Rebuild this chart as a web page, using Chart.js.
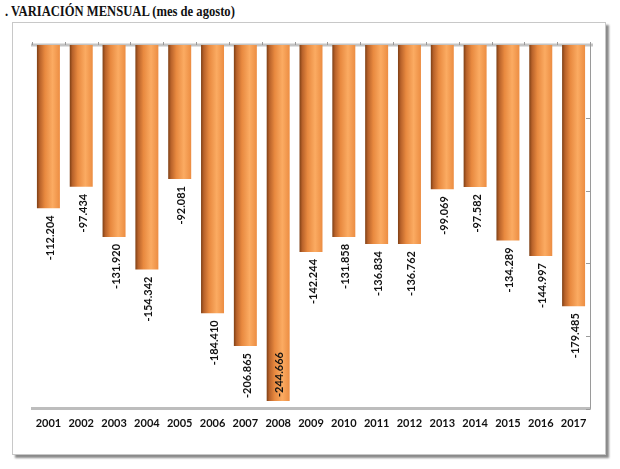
<!DOCTYPE html>
<html>
<head>
<meta charset="utf-8">
<script src="https://cdn.jsdelivr.net/npm/chart.js@4/dist/chart.umd.min.js"></script>
<style>
  html, body { margin: 0; padding: 0; background: #fff; }
  #wrap { position: relative; width: 620px; height: 469px; }
  #title { position: absolute; left: 5px; top: 4px; font: bold 14px "Liberation Serif", serif; color: #111; white-space: nowrap; transform: scaleX(0.9); transform-origin: left top; }
  #box { position: absolute; left: 12px; top: 22px; width: 592px; height: 431px; border: 1px solid #c8c8c8; box-shadow: 3px 3px 2px #8a8a8a; background: #fff; }
  #graph { position: absolute; left: 0; top: 0; }
</style>
</head>
<body>
<div id="wrap">
  <div id="title">. VARIACIÓN MENSUAL (mes de agosto)</div>
  <div id="box"></div>
  <canvas id="graph" width="620" height="469"></canvas>
</div>
<script>
const years = ["2001", "2002", "2003", "2004", "2005", "2006", "2007", "2008", "2009",
    "2010", "2011", "2012", "2013", "2014", "2015", "2016", "2017"];
const variacion = [-112204, -97434, -131920, -154342, -92081, -184410, -206865, -244666, -142244,
    -131858, -136834, -136762, -99069, -97582, -134289, -144997, -179485];
const yMin = -250000;
const yStep = 50000;
const barPct = 0.7;

const formatNum = v => (v < 0 ? "-" : "") + Math.abs(v).toString().replace(/\B(?=(\d{3})+(?!\d))/g, ".");

// cylinder look: horizontal gradient, one per bar
function cylinderFill(context) {
    const chart = context.chart;
    const x = chart.scales.x;
    const a = chart.chartArea;
    if (!x || !a || context.dataIndex === undefined) return "#f09a4c";
    const cx = x.getPixelForValue(context.dataIndex);
    const w = (a.right - a.left) / years.length * barPct;
    const left = cx - w / 2;
    const g = chart.ctx.createLinearGradient(left, 0, left + w, 0);
    g.addColorStop(0, "#7e3f15");
    g.addColorStop(0.12, "#b8622a");
    g.addColorStop(0.35, "#e8893f");
    g.addColorStop(0.68, "#fbab62");
    g.addColorStop(1, "#ec8d42");
    return g;
}

// frame lines of the plot area and value labels
const frame = {
    id: "frame",
    beforeDatasetsDraw(chart) {
        const {ctx, chartArea: a, scales: {y}} = chart;
        const y0 = y.getPixelForValue(0);
        ctx.save();
        ctx.strokeStyle = "#c4c4c4";
        ctx.lineWidth = 3;
        ctx.beginPath();
        ctx.moveTo(a.left - 1, y0);
        ctx.lineTo(a.right + 3, y0);
        ctx.stroke();
        ctx.strokeStyle = "#9a9a9a";
        ctx.lineWidth = 1;
        ctx.beginPath();
        ctx.moveTo(a.right + 0.5, y0);
        ctx.lineTo(a.right + 0.5, a.bottom);
        for (let v = -yStep; v >= yMin; v -= yStep) {
            const py = Math.round(y.getPixelForValue(v)) + 0.5;
            ctx.moveTo(a.right - 4, py);
            ctx.lineTo(a.right, py);
        }
        const n = years.length;
        for (let i = 0; i <= n; i++) {
            const px = Math.round(a.left + (a.right - a.left) * i / n) + 0.5;
            ctx.moveTo(px, y0 - 3);
            ctx.lineTo(px, y0);
        }
        ctx.stroke();
        ctx.restore();
    },
    afterDatasetsDraw(chart) {
        const {ctx, chartArea: a} = chart;
        ctx.save();
        ctx.font = "bold 11px Lato, sans-serif";
        ctx.fillStyle = "#111";
        ctx.textBaseline = "middle";
        chart.getDatasetMeta(0).data.forEach((bar, i) => {
            const txt = formatNum(variacion[i]);
            const w = ctx.measureText(txt).width;
            ctx.save();
            if (bar.y + 7 + w > a.bottom) {
                ctx.translate(bar.x + 1, bar.y - 4);
                ctx.rotate(-Math.PI / 2);
                ctx.textAlign = "left";
            } else {
                ctx.translate(bar.x + 2, bar.y + 7);
                ctx.rotate(-Math.PI / 2);
                ctx.textAlign = "right";
            }
            ctx.fillText(txt, 0, 0);
            ctx.restore();
        });
        ctx.restore();
    }
};

new Chart(document.querySelector("#graph"), {
    type: "bar",
    data: {
        labels: years,
        datasets: [{
            label: "Variación mensual",
            data: variacion,
            backgroundColor: cylinderFill,
            barPercentage: barPct,
            categoryPercentage: 1
        }]
    },
    options: {
        responsive: false,
        animation: false,
        layout: {padding: {left: 32, right: 22, top: 45, bottom: 39}},
        plugins: {legend: {display: false}, tooltip: {enabled: false}},
        scales: {
            x: {
                grid: {display: false},
                border: {color: "#bdbdbd", width: 3},
                ticks: {color: "#111", font: {family: "Lato", weight: "bold", size: 11}, padding: 0, maxRotation: 0}
            },
            y: {
                position: "right",
                min: yMin,
                max: 0,
                ticks: {display: false, stepSize: yStep},
                grid: {display: false},
                border: {display: false}
            }
        }
    },
    plugins: [frame]
});
</script>
</body>
</html>
